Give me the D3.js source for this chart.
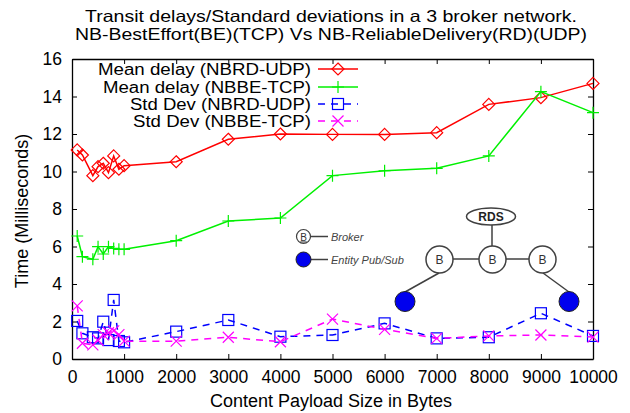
<!DOCTYPE html>
<html><head><meta charset="utf-8">
<script src="https://cdn.jsdelivr.net/npm/d3@7"></script>
<style>
body{margin:0;background:#fff;}
text{font-family:"Liberation Sans",Arial,sans-serif;}
</style></head>
<body><svg id="c" width="630" height="413"></svg>
<script>
const titleLines = ["Transit delays/Standard deviations in a 3 broker network.",
                    "NB-BestEffort(BE)(TCP) Vs NB-ReliableDelivery(RD)(UDP)"];
const xLabel = "Content Payload Size in Bytes";
const yLabel = "Time (Milliseconds)";
const xTicks = [0,1000,2000,3000,4000,5000,6000,7000,8000,9000,10000];
const yTicks = [0,2,4,6,8,10,12,14,16];
const payload = [100,200,400,500,600,700,800,900,1000,2000,3000,4000,5000,6000,7000,8000,9000,10000];
const meanRD = [11.15,10.88,9.78,10.26,10.44,9.94,10.83,10.12,10.31,10.52,11.72,12.0,11.98,11.98,12.07,13.58,13.94,14.7];
const meanBE = [6.56,5.46,5.32,5.99,5.6,5.99,5.9,5.85,5.85,6.31,7.36,7.52,9.78,10.04,10.17,10.83,14.26,13.14];
const stdRD  = [2.03,1.37,1.16,1.1,1.99,1.01,3.15,0.96,0.89,1.46,2.08,1.19,1.28,1.9,1.1,1.16,2.44,1.23];
const stdBE  = [2.83,0.84,0.75,1.0,1.3,1.4,1.5,1.3,0.95,0.95,1.16,0.92,2.13,1.58,1.1,1.23,1.28,1.17];
const seriesNames = ["Mean delay (NBRD-UDP)","Mean delay (NBBE-TCP)","Std Dev (NBRD-UDP)","Std Dev (NBBE-TCP)"];
const seriesColors = ["#ff0000","#00f000","#0000ff","#ff00ff"];
const legendWidths = [213,208,181,178];

const svg = d3.select("#c");
const L=72,R=593,T=59,B=359;
const x = d3.scaleLinear().domain([0,10000]).range([L,R]);
const y = d3.scaleLinear().domain([0,16]).range([B,T]);

// title
svg.selectAll(".title").data(titleLines).enter().append("text")
  .attr("x",331).attr("y",(d,i)=>22+i*18).attr("text-anchor","middle")
  .attr("font-size",16.5).attr("textLength",(d,i)=>i?512:492).attr("lengthAdjust","spacingAndGlyphs")
  .text(d=>d);

// axes
const fmt = d3.format("d");
const gB = svg.append("g").attr("transform",`translate(0,${B})`)
  .call(d3.axisBottom(x).tickValues(xTicks).tickFormat(fmt).tickSize(-5).tickSizeOuter(0).tickPadding(12));
const gT = svg.append("g").attr("transform",`translate(0,${T})`)
  .call(d3.axisTop(x).tickValues(xTicks).tickFormat("").tickSize(-5).tickSizeOuter(0));
const gL = svg.append("g").attr("transform",`translate(${L},0)`)
  .call(d3.axisLeft(y).tickValues(yTicks).tickFormat(fmt).tickSize(-5).tickSizeOuter(0).tickPadding(10));
const gR = svg.append("g").attr("transform",`translate(${R},0)`)
  .call(d3.axisRight(y).tickValues(yTicks).tickFormat("").tickSize(-5).tickSizeOuter(0));
[gB,gT,gL,gR].forEach(g=>{
  g.selectAll("path.domain").attr("stroke","#000").attr("stroke-width",1.3);
  g.selectAll(".tick line").attr("stroke","#000");
  g.selectAll("text").attr("font-size",17.5).attr("fill","#000").attr("font-family","'Liberation Sans',Arial,sans-serif");
});

svg.append("text").attr("x",331).attr("y",407).attr("text-anchor","middle").attr("font-size",18).text(xLabel);
svg.append("text").attr("transform","translate(28,211) rotate(-90)").attr("text-anchor","middle").attr("font-size",18).text(yLabel);

// marker shapes
function marker(g,type,cx,cy,color){
  const s=6;
  if(type===0){ g.append("path").attr("d",`M${cx},${cy-s}L${cx+s},${cy}L${cx},${cy+s}L${cx-s},${cy}Z`).attr("fill","none").attr("stroke",color).attr("stroke-width",1.2);}
  else if(type===1){ g.append("path").attr("d",`M${cx-s},${cy}H${cx+s}M${cx},${cy-s}V${cy+s}`).attr("stroke",color).attr("stroke-width",1.2);}
  else if(type===2){ g.append("rect").attr("x",cx-5.5).attr("y",cy-5.5).attr("width",11).attr("height",11).attr("fill","none").attr("stroke",color).attr("stroke-width",1.2);}
  else { g.append("path").attr("d",`M${cx-5.5},${cy-5.5}L${cx+5.5},${cy+5.5}M${cx-5.5},${cy+5.5}L${cx+5.5},${cy-5.5}`).attr("stroke",color).attr("stroke-width",1.2);}
}

// network diagram
const net = svg.append("g");
const gray="#404040";
net.append("line").attr("x1",492).attr("y1",225).attr("x2",492).attr("y2",246).attr("stroke",gray).attr("stroke-width",1.5);
net.append("line").attr("x1",439).attr("y1",259).attr("x2",543).attr("y2",259).attr("stroke",gray).attr("stroke-width",1.5);
net.append("line").attr("x1",439).attr("y1",273).attr("x2",405).attr("y2",292).attr("stroke",gray).attr("stroke-width",1.5);
net.append("line").attr("x1",543).attr("y1",273).attr("x2",569).attr("y2",292).attr("stroke",gray).attr("stroke-width",1.5);
net.append("ellipse").attr("cx",491).attr("cy",216.5).attr("rx",24.5).attr("ry",8.5).attr("fill","#fff").attr("stroke",gray).attr("stroke-width",1.5);
net.append("text").attr("x",491).attr("y",221).attr("text-anchor","middle").attr("font-size",12).attr("font-weight","bold").attr("fill","#222").text("RDS");
[439.5,492.5,542.5].forEach(cx=>{
  net.append("circle").attr("cx",cx).attr("cy",259.5).attr("r",13.5).attr("fill","#fff").attr("stroke",gray).attr("stroke-width",1.5);
  net.append("text").attr("x",cx).attr("y",264).attr("text-anchor","middle").attr("font-size",12).attr("fill","#333").text("B");
});
[405,569].forEach(cx=>{
  net.append("circle").attr("cx",cx).attr("cy",301.5).attr("r",10).attr("fill","#0000ee").attr("stroke","#222").attr("stroke-width",1);
});
// diagram legend
net.append("line").attr("x1",303).attr("y1",236.5).attr("x2",328).attr("y2",236.5).attr("stroke",gray).attr("stroke-width",1.5);
net.append("circle").attr("cx",303.5).attr("cy",236.5).attr("r",7).attr("fill","#fff").attr("stroke",gray).attr("stroke-width",1.2);
net.append("text").attr("x",303.5).attr("y",240.5).attr("text-anchor","middle").attr("font-size",10).attr("fill","#333").attr("text-decoration","underline").text("B");
net.append("text").attr("x",331).attr("y",240.5).attr("font-size",11).attr("font-style","italic").attr("fill","#444").text("Broker");
net.append("line").attr("x1",303).attr("y1",259.5).attr("x2",328).attr("y2",259.5).attr("stroke",gray).attr("stroke-width",1.5);
net.append("circle").attr("cx",303.5).attr("cy",259.5).attr("r",7.5).attr("fill","#0000ee").attr("stroke","#222").attr("stroke-width",1);
net.append("text").attr("x",331).attr("y",263.5).attr("font-size",11).attr("font-style","italic").attr("fill","#444").text("Entity Pub/Sub");

// series
const allSeries=[meanRD,meanBE,stdRD,stdBE];
const dashes=[null,null,"7,6","7,6"];
allSeries.forEach((vals,si)=>{
  const g=svg.append("g");
  const line=d3.line().x((d,i)=>x(payload[i])).y(d=>y(d));
  g.append("path").datum(vals).attr("d",line).attr("fill","none").attr("stroke",seriesColors[si])
    .attr("stroke-width",1.5).attr("stroke-dasharray",dashes[si]);
  vals.forEach((v,i)=>marker(g,si,x(payload[i]),y(v),seriesColors[si]));
});

// legend
const legY=[69,87,104,121];
seriesNames.forEach((n,i)=>{
  svg.append("text").attr("x",311).attr("y",legY[i]+6).attr("text-anchor","end").attr("font-size",16)
    .attr("textLength",legendWidths[i]).attr("lengthAdjust","spacingAndGlyphs").text(n);
  svg.append("line").attr("x1",318).attr("x2",358).attr("y1",legY[i]).attr("y2",legY[i])
    .attr("stroke",seriesColors[i]).attr("stroke-width",1.5).attr("stroke-dasharray",dashes[i]);
  marker(svg,i,338,legY[i],seriesColors[i]);
});
</script></body></html>
